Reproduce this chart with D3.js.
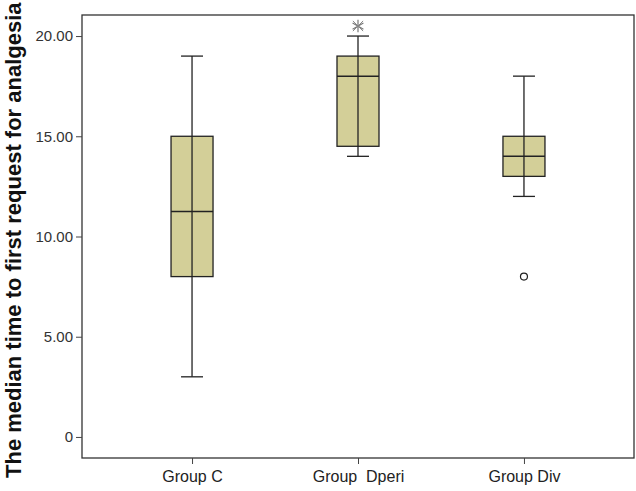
<!DOCTYPE html>
<html><head><meta charset="utf-8">
<script src="https://cdn.jsdelivr.net/npm/d3@7"></script>
<style>body{margin:0;background:#fff}svg{display:block}</style>
</head><body>
<script>
const categories = ["Group C", "Group  Dperi", "Group Div"];
const whiskerLow = [3, 14, 12];
const q1 = [8, 14.5, 13];
const median = [11.25, 18, 14];
const q3 = [15, 19, 15];
const whiskerHigh = [19, 20, 18];
const outliers = [[], [], [8]];
const extremes = [[], [20.5], []];
const yTicks = [0, 5, 10, 15, 20];

const W = 636, H = 491;
const m = {left: 82, right: 2, top: 15, bottom: 33};
const svg = d3.select("body").append("svg").attr("width", W).attr("height", H);

const x = d3.scalePoint().domain(categories).range([m.left, W - m.right]).padding(0.663);
const y = d3.scaleLinear().domain([-1.05, 21.05]).range([H - m.bottom, m.top]);

// frame
svg.append("rect").attr("x", m.left).attr("y", m.top)
  .attr("width", W - m.right - m.left).attr("height", H - m.bottom - m.top)
  .attr("fill", "none").attr("stroke", "#333").attr("stroke-width", 1.3);

const yAxis = svg.append("g").attr("transform", `translate(${m.left},0)`)
  .call(d3.axisLeft(y).tickValues(yTicks).tickSize(6).tickPadding(3)
    .tickFormat(d => d === 0 ? "0" : d3.format(".2f")(d)));
yAxis.select(".domain").remove();
yAxis.selectAll("line").attr("stroke", "#444");
yAxis.selectAll("text").attr("font-family", "Liberation Sans, Arial, sans-serif")
  .attr("font-size", 15).attr("fill", "#333");

const xAxis = svg.append("g").attr("transform", `translate(0,${H - m.bottom})`)
  .call(d3.axisBottom(x).tickSize(6).tickPadding(7));
xAxis.select(".domain").remove();
xAxis.selectAll("line").attr("stroke", "#444");
xAxis.selectAll("text").attr("font-family", "Liberation Sans, Arial, sans-serif")
  .attr("font-size", 16).attr("fill", "#222").style("white-space", "pre");

// y label
svg.append("text")
  .attr("transform", `translate(21,478) rotate(-90)`)
  .attr("text-anchor", "start")
  .attr("font-family", "Liberation Sans, Arial, sans-serif")
  .attr("font-weight", "bold").attr("font-size", 22).attr("fill", "#111")
  .text("The median time to first request for analgesia");

const boxW = 42, capW = 22;
const g = svg.append("g");
categories.forEach((c, i) => {
  const cx = x(c);
  g.append("line").attr("x1", cx).attr("x2", cx).attr("y1", y(whiskerLow[i])).attr("y2", y(whiskerHigh[i]))
    .attr("stroke", "#222").attr("stroke-width", 1.3);
  [whiskerLow[i], whiskerHigh[i]].forEach(v => {
    g.append("line").attr("x1", cx - capW/2).attr("x2", cx + capW/2).attr("y1", y(v)).attr("y2", y(v))
      .attr("stroke", "#222").attr("stroke-width", 1.3);
  });
  g.append("rect").attr("x", cx - boxW/2).attr("y", y(q3[i]))
    .attr("width", boxW).attr("height", y(q1[i]) - y(q3[i]))
    .attr("fill", "#d3cf98").attr("stroke", "#222").attr("stroke-width", 1.3);
  g.append("line").attr("x1", cx).attr("x2", cx).attr("y1", y(q3[i])).attr("y2", y(q1[i]))
    .attr("stroke", "#222").attr("stroke-width", 1.3);
  g.append("line").attr("x1", cx - boxW/2).attr("x2", cx + boxW/2).attr("y1", y(median[i])).attr("y2", y(median[i]))
    .attr("stroke", "#222").attr("stroke-width", 1.5);
  outliers[i].forEach(v => {
    g.append("circle").attr("cx", cx).attr("cy", y(v)).attr("r", 3.5)
      .attr("fill", "#fff").attr("stroke", "#222").attr("stroke-width", 1.2);
  });
  extremes[i].forEach(v => {
    g.append("path").attr("transform", `translate(${cx},${y(v)})`)
      .attr("d", d3.symbol(d3.symbolAsterisk, 110)())
      .attr("fill", "none").attr("stroke", "#777").attr("stroke-width", 1.2);
    g.append("path").attr("transform", `translate(${cx},${y(v)})`)
      .attr("d", d3.symbol(d3.symbolTimes, 70)())
      .attr("fill", "none").attr("stroke", "#888").attr("stroke-width", 1);
  });
});
</script>
</body></html>
